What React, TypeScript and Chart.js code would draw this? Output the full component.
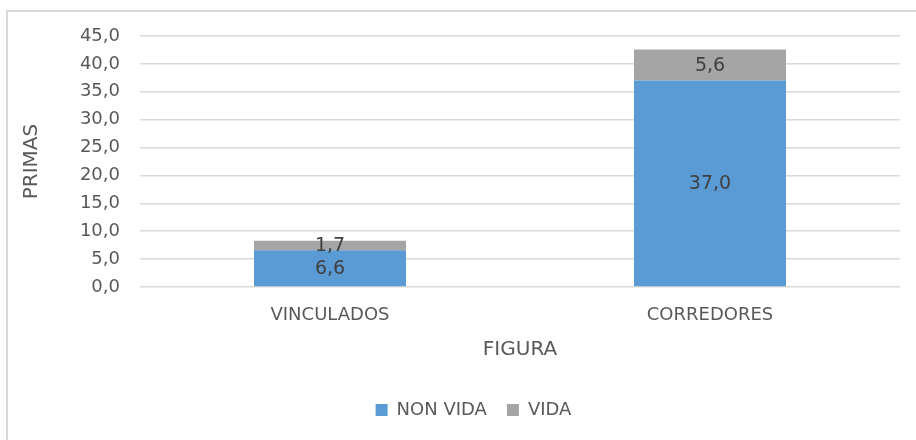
import React, { useEffect, useRef } from "react";
import { Chart, registerables } from "chart.js";

Chart.register(...registerables);

const categories = ["VINCULADOS", "CORREDORES"];
const nonVida = [6.6, 37.0];
const vida = [1.7, 5.6];
const seriesNames = ["NON VIDA", "VIDA"];
const yTitle = "PRIMAS";
const xTitle = "FIGURA";

const FONT = "'DejaVu Sans', sans-serif";
const TEXT = "#595959";
const fmt = (v: number) => v.toFixed(1).replace(".", ",");

const labelPlugin = {
  id: "segLabels",
  afterDatasetsDraw(chart: any) {
    const ctx = chart.ctx;
    ctx.save();
    ctx.font = `19px ${FONT}`;
    ctx.fillStyle = "#404040";
    ctx.textAlign = "center";
    ctx.textBaseline = "middle";
    chart.data.datasets.forEach((ds: any, i: number) => {
      const meta = chart.getDatasetMeta(i);
      meta.data.forEach((el: any, j: number) => {
        const { x, y, base } = el.getProps(["x", "y", "base"], true);
        ctx.fillText(fmt(ds.data[j]), x, (y + base) / 2 + 1);
      });
    });
    ctx.restore();
  },
};

export default function App() {
  const ref = useRef<HTMLCanvasElement>(null);
  useEffect(() => {
    if (!ref.current) return;
    const chart = new Chart(ref.current, {
      type: "bar",
      data: {
        labels: categories,
        datasets: [
          { label: seriesNames[0], data: nonVida, backgroundColor: "#5B9BD5", barPercentage: 0.4, categoryPercentage: 1 },
          { label: seriesNames[1], data: vida, backgroundColor: "#A5A5A5", barPercentage: 0.4, categoryPercentage: 1 },
        ],
      },
      options: {
        responsive: false,
        animation: false,
        layout: { padding: { left: 47, right: 16, top: 36, bottom: 11 } },
        plugins: {
          tooltip: { enabled: false },
          legend: {
            position: "bottom",
            labels: {
              boxWidth: 12,
              boxHeight: 12,
              padding: 20,
              color: TEXT,
              font: { family: FONT, size: 18 },
            },
          },
        },
        scales: {
          x: {
            stacked: true,
            grid: { display: false },
            border: { display: false },
            ticks: { color: TEXT, font: { family: FONT, size: 18 }, padding: 10 },
            title: {
              display: true,
              text: xTitle,
              color: TEXT,
              font: { family: FONT, size: 20 },
              padding: { top: 0, bottom: 19 },
            },
            afterFit(scale: any) {
              scale.height = 94;
            },
          },
          y: {
            stacked: true,
            min: 0,
            max: 45,
            ticks: {
              stepSize: 5,
              color: TEXT,
              font: { family: FONT, size: 18 },
              padding: 20,
              callback: (v: any) => fmt(Number(v)),
            },
            grid: { color: "#d9d9d9", lineWidth: 1.5, drawTicks: false },
            border: { display: false },
            title: {
              display: true,
              text: yTitle,
              color: TEXT,
              font: { family: FONT, size: 20 },
              padding: { top: -27, bottom: 0 },
            },
            afterFit(scale: any) {
              scale.width = 93;
            },
          },
        },
      },
      plugins: [labelPlugin],
    });
    return () => chart.destroy();
  }, []);
  return (
    <>
      <div
        style={{
          position: "fixed",
          left: 6,
          top: 10,
          width: 940,
          height: 460,
          borderTop: "2px solid #d9d9d9",
          borderLeft: "2px solid #d9d9d9",
          boxSizing: "border-box",
        }}
      />
      <canvas
        ref={ref}
        width={916}
        height={440}
        style={{ position: "fixed", left: 0, top: 0, width: 916, height: 440 }}
      />
    </>
  );
}
